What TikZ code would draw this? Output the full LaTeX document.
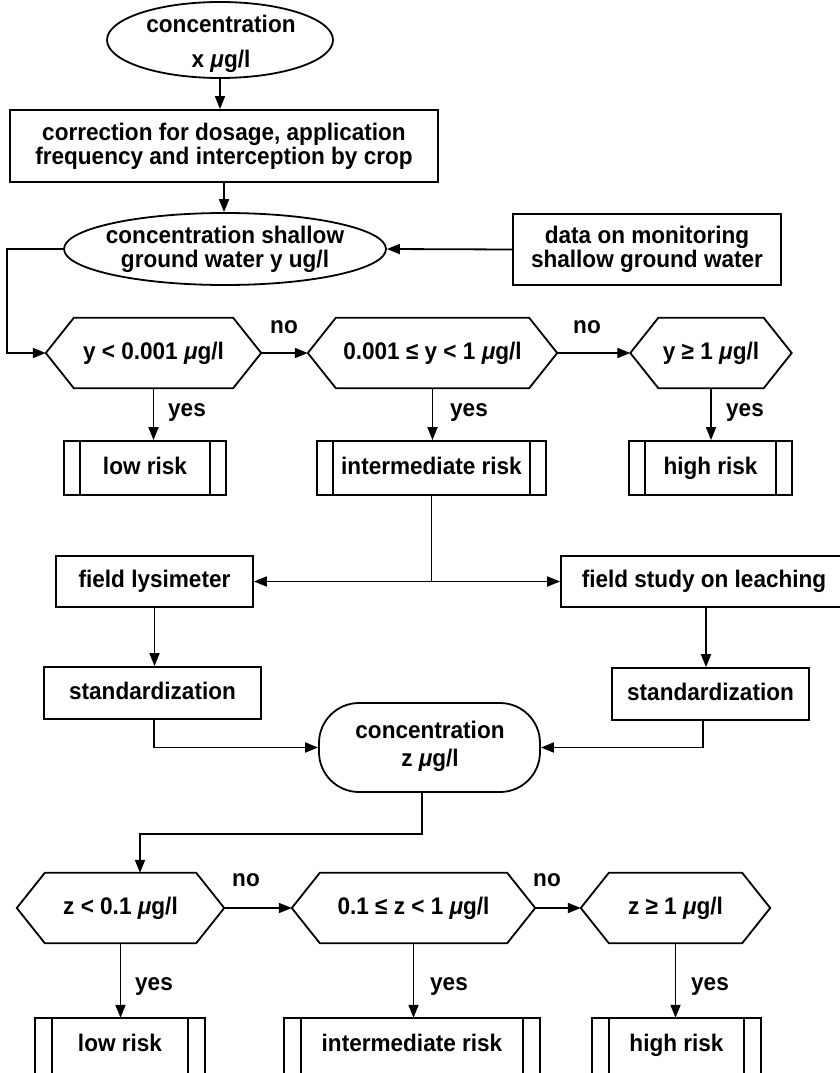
\documentclass[tikz,border=0pt]{standalone}
\usepackage{fontspec}
\setmainfont[FakeStretch=0.94]{Liberation Sans}
\usetikzlibrary{arrows.meta,shapes.geometric}

% micrograms per litre, with an italic mu
\newcommand\mugl{{\itshape μ}g/l}

% hexagonal decision outline around a borderless node
\newcommand\hexframe[1]{%
  \draw[line] (#1.west) -- ([xshift=28pt]#1.north west) -- ([xshift=-28pt]#1.north east)
    -- (#1.east) -- ([xshift=-28pt]#1.south east) -- ([xshift=28pt]#1.south west) -- cycle;}

% the two inner bars of a result box
\newcommand\riskbars[1]{%
  \draw[line] ([xshift=17pt]#1.north west) -- ([xshift=17pt]#1.south west)
              ([xshift=-17pt]#1.north east) -- ([xshift=-17pt]#1.south east);}

\begin{document}
\begin{tikzpicture}[x=1pt,y=-1pt,
  every node/.style={font=\bfseries\fontsize{24}{24}\selectfont, inner sep=0pt, align=center},
  line/.style={line width=1.8pt},
  arr/.style={line width=1.8pt, -{Triangle[length=13pt,width=10pt]}},
  box/.style={draw, line width=1.8pt, rectangle},
  oval/.style={draw, line width=1.8pt, ellipse},
  oneline/.style={text height=17pt, text depth=5pt},
  decision/.style={oneline, minimum height=70pt},
]
\useasboundingbox (0,0) rectangle (840,1073);
\clip (0,0) rectangle (840,1073);
\fill[white] (0,0) rectangle (840,1073);

% ---- first stage: shallow ground water ----
\node[oval, minimum width=226pt, minimum height=76pt] (e1) at (220,40) {};
\node (e1t) at (221,44) {concentration\\[11pt]x \mugl};

\node[box, minimum width=428pt, minimum height=72pt] (b1) at (224,146)
  {correction for dosage, application\\frequency and interception by crop};

\node[oval, minimum width=322pt, minimum height=72pt] (e2) at (225,249) {};
\node (e2t) at (225,249.5) {concentration shallow\\ground water y ug/l};

\node[box, minimum width=268pt, minimum height=71pt] (d) at (647,249.5)
  {data on monitoring\\shallow ground water};

\node[decision, minimum width=215pt] (h1) at (153.5,353) {y < 0.001 \mugl};
\node[decision, minimum width=249pt] (h2) at (432.5,353) {0.001 ≤ y < 1 \mugl};
\node[decision, minimum width=161pt] (h3) at (711,353) {y ≥ 1 \mugl};
\hexframe{h1}\hexframe{h2}\hexframe{h3}

\node (no1) at (284,327) {no};
\node (no2) at (587,327) {no};

\node[box, oneline, minimum width=162pt, minimum height=54pt] (r1) at (145,468) {low risk};
\node[box, oneline, minimum width=229pt, minimum height=54pt] (r2) at (431.5,468) {intermediate risk};
\node[box, oneline, minimum width=163pt, minimum height=54pt] (r3) at (710.5,468) {high risk};
\riskbars{r1}\riskbars{r2}\riskbars{r3}

\node (yes1) at (187,413) {yes};
\node (yes2) at (469,413) {yes};
\node (yes3) at (745,413) {yes};

\draw[arr] (e1.south) -- (e1.south |- b1.north);
\draw[arr] (b1.south) -- (b1.south |- e2.north);
\draw[arr] (d.west) -- (e2.east);
\draw[arr] (e2.west) -- ++(-56,0) |- (h1.west);
\draw[arr] (h1.east) -- (h2.west);
\draw[arr] (h2.east) -- (h3.west);
\draw[arr] (h1.south) -- (h1.south |- r1.north);
\draw[arr] (h2.south) -- (h2.south |- r2.north);
\draw[arr] (h3.south) -- (h3.south |- r3.north);

% ---- second stage: field studies ----
\node[box, oneline, minimum width=197pt, minimum height=51pt] (f1) at (154.5,581.5) {field lysimeter};
\node[box, oneline, minimum width=286pt, minimum height=51pt] (f2) at (704,581.5) {field study on leaching};
\coordinate (j) at (r2.south |- f1.east);

\node[box, oneline, minimum width=217pt, minimum height=52pt] (s1) at (152.5,693) {standardization};
\node[box, oneline, minimum width=197pt, minimum height=52pt] (s2) at (710.5,694) {standardization};

\node[draw, line width=1.8pt, rounded corners=40pt, minimum width=221pt, minimum height=89pt] (c) at (429.5,747.5) {};
\node (ct) at (430,746) {concentration\\[4pt]z \mugl};

\draw[line] (r2.south) -- (j);
\draw[arr] (j) -- (f1.east);
\draw[arr] (j) -- (f2.west);
\draw[arr] (f1.south) -- (f1.south |- s1.north);
\draw[arr] ([xshift=2pt]f2.south) -- ([xshift=2pt]f2.south |- s2.north);
\draw[arr] ([xshift=1.5pt]s1.south) |- (c.west);
\draw[arr] ([xshift=-7.5pt]s2.south) |- (c.east);

% ---- decision on z ----
\node[decision, minimum width=207pt] (h4) at (120.5,908) {z < 0.1 \mugl};
\node[decision, minimum width=243pt] (h5) at (413.5,908) {0.1 ≤ z < 1 \mugl};
\node[decision, minimum width=189pt] (h6) at (675.5,908) {z ≥ 1 \mugl};
\hexframe{h4}\hexframe{h5}\hexframe{h6}

\node (no3) at (246,880) {no};
\node (no4) at (547,880) {no};

\node[oneline, minimum width=170pt, minimum height=54pt] (r4) at (120,1045) {low risk};
\node[oneline, minimum width=256pt, minimum height=54pt] (r5) at (412,1045) {intermediate risk};
\node[oneline, minimum width=169pt, minimum height=54pt] (r6) at (676.5,1045) {high risk};
\foreach \r in {r4,r5,r6}{
  \draw[line] ([yshift=-10pt]\r.south west) rectangle (\r.north east);
  \draw[line] ([xshift=17pt]\r.north west) -- ([xshift=17pt,yshift=-10pt]\r.south west)
              ([xshift=-17pt]\r.north east) -- ([xshift=-17pt,yshift=-10pt]\r.south east);
}

\node (yes4) at (154,987) {yes};
\node (yes5) at (449,987) {yes};
\node (yes6) at (710,987) {yes};

\draw[arr] ([xshift=-7.5pt]c.south) -- ++(0,41) -| ([xshift=19.5pt]h4.north);
\draw[arr] (h4.east) -- (h5.west);
\draw[arr] (h5.east) -- (h6.west);
\draw[arr] (h4.south) -- (h4.south |- r4.north);
\draw[arr] (h5.south) -- (h5.south |- r5.north);
\draw[arr] (h6.south) -- (h6.south |- r6.north);
\end{tikzpicture}
\end{document}
